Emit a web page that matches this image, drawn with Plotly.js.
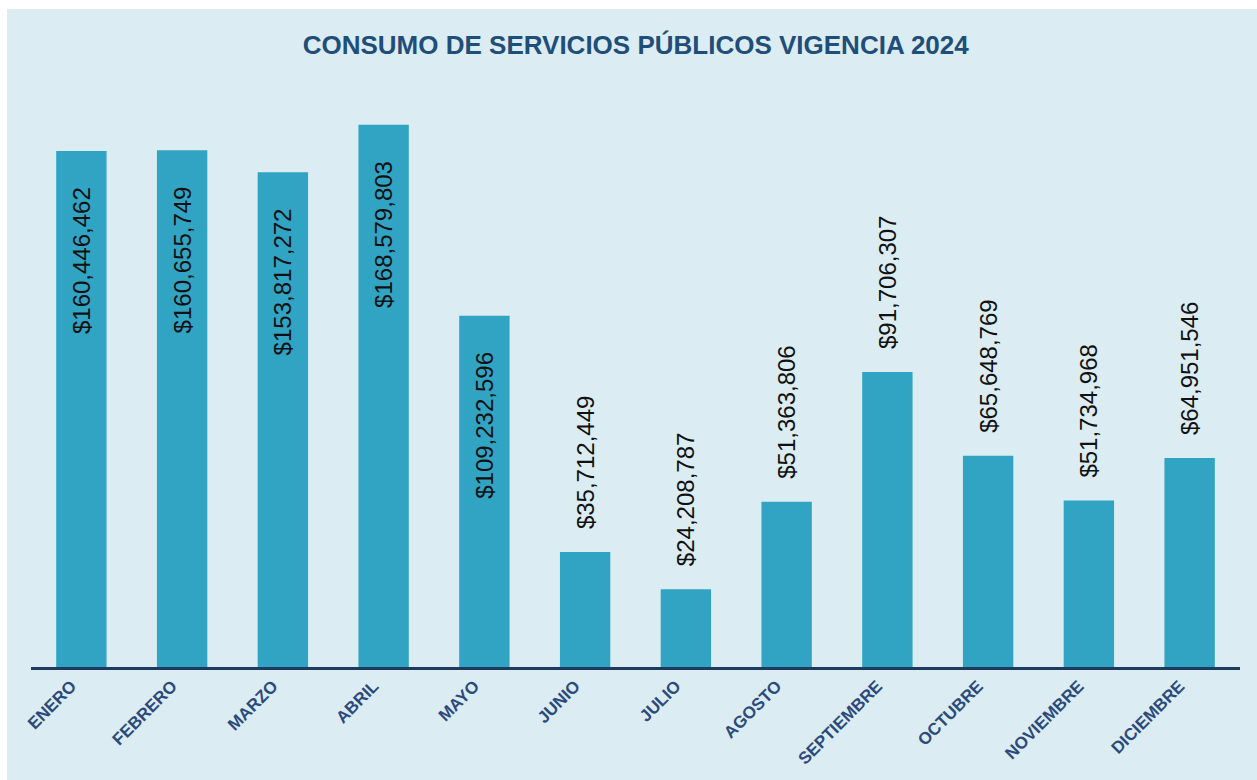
<!DOCTYPE html>
<html>
<head>
<meta charset="utf-8">
<script src="https://cdn.plot.ly/plotly-3.0.1.min.js"></script>
<style>
  html, body { margin: 0; padding: 0; background: #ffffff; width: 1257px; height: 780px; overflow: hidden; }
  #chart { position: absolute; left: 7px; top: 9px; width: 1250px; height: 771px; }
</style>
</head>
<body>
<div id="chart"></div>
<script>
const months = ["ENERO","FEBRERO","MARZO","ABRIL","MAYO","JUNIO","JULIO","AGOSTO","SEPTIEMBRE","OCTUBRE","NOVIEMBRE","DICIEMBRE"];
const values = [160446462,160655749,153817272,168579803,109232596,35712449,24208787,51363806,91706307,65648769,51734968,64951546];
const labelInside = [true,true,true,true,true,false,false,false,false,false,false,false];

const NB = "\u00a0";
const trace = {
  type: "bar",
  x: months,
  y: values,
  marker: { color: "#31a3c3", line: { width: 0 } },
  texttemplate: labelInside.map(v => v ? "$%{y:,.0f}" + NB.repeat(5) : NB.repeat(3) + "$%{y:,.0f}"),
  textposition: labelInside.map(v => v ? "inside" : "outside"),
  insidetextanchor: "end",
  textangle: -90,
  constraintext: "none",
  cliponaxis: false,
  textfont: { family: "Liberation Sans, Arial, sans-serif", size: 24, color: "#111111" },
  hoverinfo: "x+y"
};

const layout = {
  width: 1250,
  height: 771,
  paper_bgcolor: "#dbecf2",
  plot_bgcolor: "#dbecf2",
  margin: { l: 24, r: 17, t: 79, b: 113 },
  bargap: 0.5,
  showlegend: false,
  title: {
    text: "<b>CONSUMO DE SERVICIOS PÚBLICOS VIGENCIA 2024</b>",
    font: { family: "Liberation Sans, Arial, sans-serif", size: 26, color: "#1f4e79" },
    x: 0.503, xanchor: "center", y: 0.953, yanchor: "middle"
  },
  xaxis: {
    tickangle: -45,
    ticklabelshift: -10,
    tickfont: { family: "Liberation Sans, Arial, sans-serif", size: 17, color: "#2b4a7c", weight: "bold" },
    showline: true, linecolor: "#1f3a5f", linewidth: 2.5,
    ticks: "", showgrid: false, zeroline: false
  },
  yaxis: {
    range: [0, 180000000],
    visible: false, showgrid: false, zeroline: false
  }
};

Plotly.newPlot("chart", [trace], layout, { displayModeBar: false, staticPlot: true });
</script>
</body>
</html>
